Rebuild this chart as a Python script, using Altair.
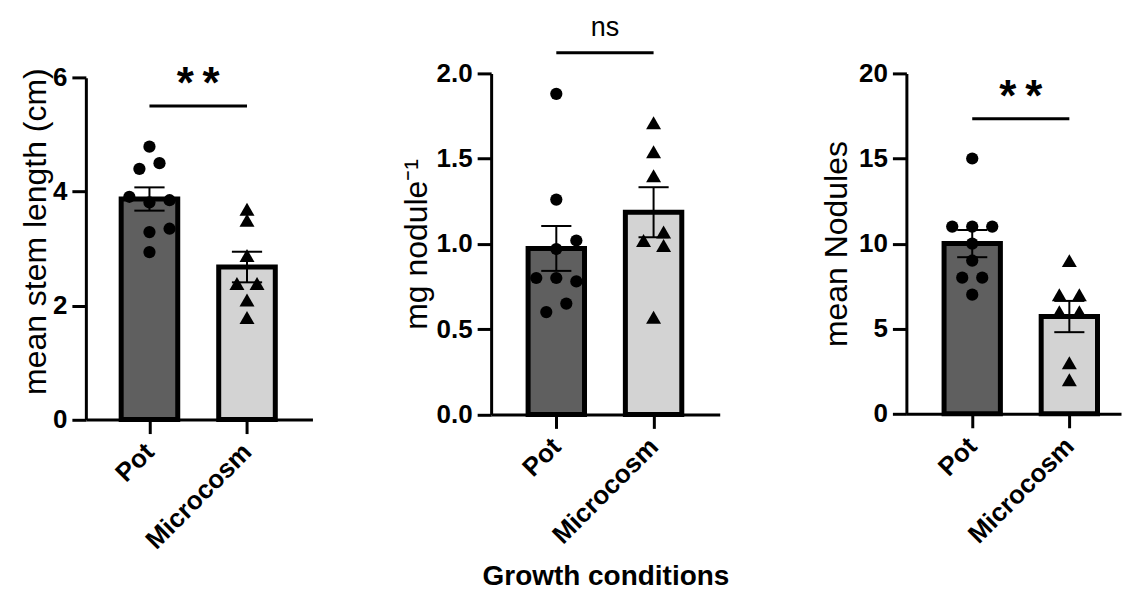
import altair as alt
import pandas as pd

FONT = "Liberation Sans"
groups = ["Pot", "Microcosm"]
fills = ["#5f5f5f", "#d3d3d3"]

# Panel 1: mean stem length (cm)
stem_pot = [4.79, 4.40, 4.50, 3.91, 3.81, 3.85, 3.29, 3.35, 2.94]
stem_pot_col = [0, -1, 1, -2, 0, 2, 0, 2, 0]
stem_mic = [3.69, 3.50, 2.88, 2.39, 2.39, 2.10, 1.79]
stem_mic_col = [0, 0, 0, -1, 1, 0, 0]

# Panel 2: mg nodule^-1
mg_pot = [1.88, 1.26, 1.02, 0.97, 0.80, 0.80, 0.78, 0.65, 0.60]
mg_pot_col = [0, 0, 2, 0, -2, 0, 2, 1, -1]
mg_mic = [1.71, 1.54, 1.40, 1.07, 1.02, 0.99, 0.57]
mg_mic_col = [0, 0, 0, 1, -1, 1, 0]

# Panel 3: mean Nodules
nod_pot = [15, 11, 11, 11, 10, 9, 8, 8, 7]
nod_pot_col = [0, -2, 0, 2, 0, 0, -1, 1, 0]
nod_mic = [9, 7, 7, 6, 6, 3, 2]
nod_mic_col = [0, -1, 1, -1, 1, 0, 0]

stem_ticks = [0, 2, 4, 6]
mg_ticks = [0, 0.5, 1.0, 1.5, 2.0]
nod_ticks = [0, 5, 10, 15, 20]

STARS = "*\u2009*"


def panel(pot, pot_col, mic, mic_col, ymax, yticks, yfmt, ytitle, ytitle_pad,
          sig_text, sig_text_y, sig_line_y, sig_size, sig_weight,
          width, xdom, xrange_w, height, ytop, xtitle=None, ytitle_xy=None):
    df = pd.DataFrame({
        "group": ["Pot"] * len(pot) + ["Microcosm"] * len(mic),
        "pos": [0] * len(pot) + [1] * len(mic),
        "col": pot_col + mic_col,
        "value": pot + mic,
    })
    sig = pd.DataFrame({"a": [0.0], "b": [1.0], "m": [0.5],
                        "ly": [sig_line_y], "ty": [sig_text_y], "t": [sig_text]})
    xs = alt.Scale(domain=xdom, range=[0, xrange_w], nice=False, zero=False)
    ys = alt.Scale(domain=[0, ymax], range=[height, ytop], nice=False, zero=False)
    xkw = dict(values=[0, 1], labelExpr="datum.value == 0 ? 'Pot' : 'Microcosm'",
               labelAngle=-45, labelAlign="right", labelBaseline="middle",
               labelPadding=14, labelOverlap=False, labelFlush=False, title=xtitle)
    if xtitle:
        xkw["titlePadding"] = 14
    xaxis = alt.Axis(**xkw)
    ykw = dict(values=yticks, format=yfmt, title=ytitle, titlePadding=ytitle_pad,
               labelFlush=False, labelOverlap=False)
    if ytitle_xy:
        ykw["titleX"] = ytitle_xy[0]
        ykw["titleY"] = ytitle_xy[1]
    yaxis = alt.Axis(**ykw)

    def X(f):
        return alt.X(f, type="quantitative", scale=xs, axis=xaxis)

    def Y(f):
        return alt.Y(f, type="quantitative", scale=ys, axis=yaxis)

    base = alt.Chart(df)
    agg = base.transform_aggregate(
        mean="mean(value)", se="stderr(value)", groupby=["pos", "group"]
    ).transform_calculate(
        x0="datum.pos - 0.29", x1="datum.pos + 0.29",
        lo="datum.mean - datum.se", hi="datum.mean + datum.se",
        c0="datum.pos - 0.155", c1="datum.pos + 0.155", zero="0",
    )
    bars = agg.mark_rect(stroke="black", strokeWidth=5).encode(
        x=X("x0"), x2="x1:Q", y=Y("mean"), y2="zero:Q",
        fill=alt.Fill("group:N", scale=alt.Scale(domain=groups, range=fills), legend=None),
    )
    err = agg.mark_rule(color="black", strokeWidth=2).encode(x=X("pos"), y=Y("lo"), y2="hi:Q")
    cap_hi = agg.mark_rule(color="black", strokeWidth=2).encode(x=X("c0"), x2="c1:Q", y=Y("hi"))
    cap_lo = agg.mark_rule(color="black", strokeWidth=2).encode(x=X("c0"), x2="c1:Q", y=Y("lo"))
    pts = base.transform_calculate(xj="datum.pos + datum.col * 0.103").mark_point(
        filled=True, opacity=1, color="black"
    ).encode(
        x=X("xj"), y=Y("value"),
        shape=alt.Shape("group:N", scale=alt.Scale(domain=groups, range=["circle", "triangle-up"]), legend=None),
        size=alt.Size("group:N", scale=alt.Scale(domain=groups, range=[150, 225]), legend=None),
    )
    sbase = alt.Chart(sig)
    sline = sbase.mark_rule(color="black", strokeWidth=3).encode(x=X("a"), x2="b:Q", y=Y("ly"))
    stext = sbase.mark_text(font=FONT, fontSize=sig_size, fontWeight=sig_weight, color="black",
                            align="center", baseline="alphabetic").encode(
        x=X("m"), y=Y("ty"), text="t:N")
    return alt.layer(bars, err, cap_hi, cap_lo, pts, sline, stext).properties(width=width, height=height)


p1 = panel(stem_pot, stem_pot_col, stem_mic, stem_mic_col, 6, stem_ticks, "d",
           "mean stem length (cm)", 0, STARS, 5.64, 5.505, 44, "bold",
           227, [-0.652, 1.671], 227, 346.8, 4.3, ytitle_xy=(-33, 158))
p2 = panel(mg_pot, mg_pot_col, mg_mic, mg_mic_col, 2, mg_ticks, ".1f",
           "mg nodule⁻¹", 3, "ns", 2.219, 2.121, 27, "normal",
           237, [-0.67, 1.68], 229, 341.6, 0, xtitle="Growth conditions")
p3 = panel(nod_pot, nod_pot_col, nod_mic, nod_mic_col, 20, nod_ticks, "d",
           "mean Nodules", 5, STARS, 17.78, 17.33, 44, "bold",
           215, [-0.678, 1.532], 215, 341, 0)

chart = alt.hconcat(p1, p2, p3, spacing=179, bounds="flush").properties(
    padding={"left": 11, "top": 5, "right": 2, "bottom": 0}
).configure_axis(
    domainColor="black", domainWidth=3, tickColor="black", tickWidth=3, tickSize=14,
    labelFont=FONT, labelFontSize=26, labelFontWeight="bold", labelColor="black",
    labelPadding=5, titleFont=FONT, titleColor="black", grid=False,
).configure_axisY(
    titleFontSize=32, titleFontWeight="normal",
).configure_axisX(
    titleFontSize=28, titleFontWeight="bold",
).configure_view(strokeWidth=0)

chart.save("out.html", embed_options={"renderer": "svg", "actions": False})
